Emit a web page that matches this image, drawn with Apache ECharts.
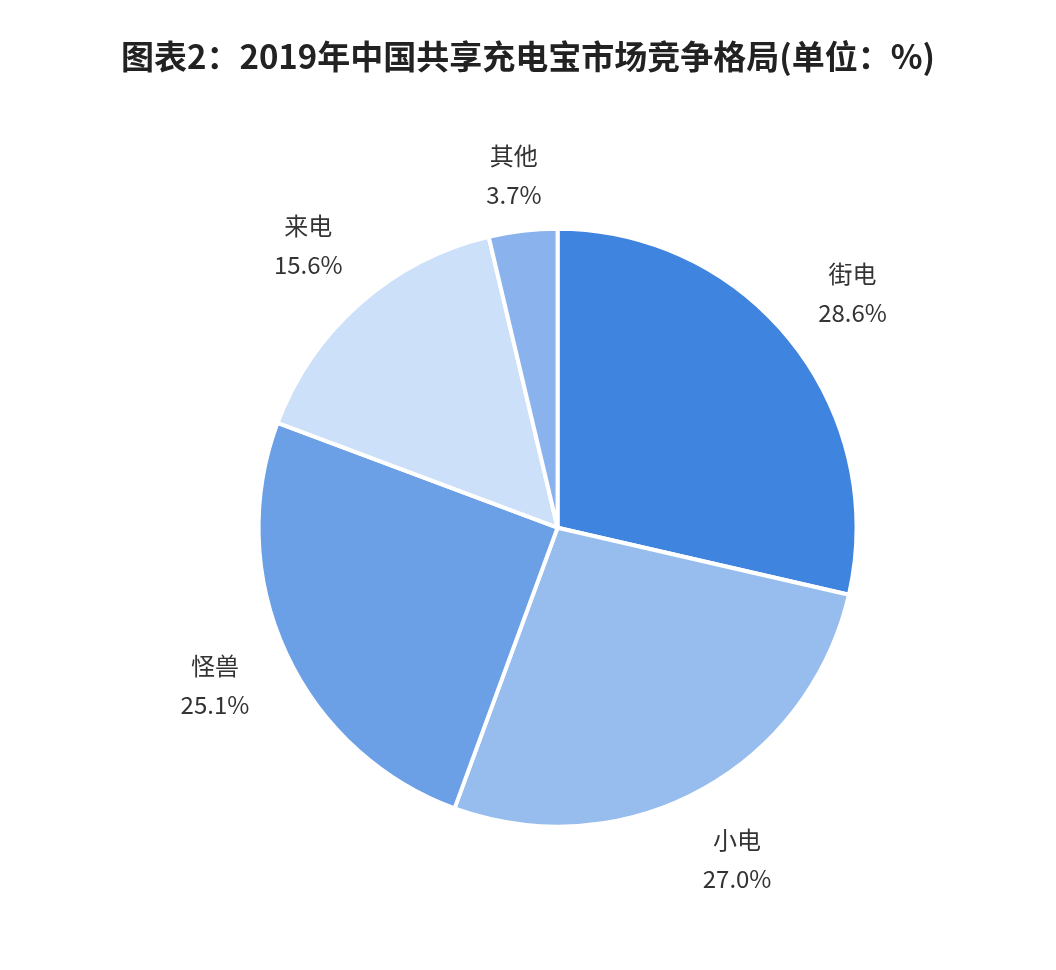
<!DOCTYPE html>
<html>
<head>
<meta charset="utf-8">
<script src="https://cdn.jsdelivr.net/npm/echarts@6/dist/echarts.min.js"></script>
<style>
html,body{margin:0;padding:0;background:#fff;}
#main{width:1056px;height:970px;}
</style>
</head>
<body>
<div id="main"></div>
<script>
const titleText = '图表2：2019年中国共享充电宝市场竞争格局(单位：%)';
const categories = ['街电', '小电', '怪兽', '来电', '其他'];
const shares = [28.6, 27.0, 25.1, 15.6, 3.7];
const colors = ['#3F84DE', '#97BCEE', '#6B9FE6', '#CDE0F9', '#8AB2EC'];

const chart = echarts.init(document.getElementById('main'));
const center = ['52.8%', '54.4%'];

const pieData = categories.map((c, i) => ({
  name: c, value: shares[i], itemStyle: { color: colors[i] }
}));
const labelData = categories.map((c, i) => {
  const d = { name: c, value: shares[i] };
  if (c === '其他') d.label = { offset: [0, 22] };
  return d;
});

chart.setOption({
  backgroundColor: '#ffffff',
  animation: false,
  title: {
    text: titleText,
    left: 'center',
    top: 35,
    textStyle: {
      fontFamily: 'Noto Sans CJK SC',
      fontWeight: 'bold',
      fontSize: 33,
      color: '#222222'
    }
  },
  series: [
    {
      type: 'pie',
      center: center,
      radius: [0, 299],
      startAngle: 90,
      clockwise: true,
      silent: true,
      label: { show: false },
      labelLine: { show: false },
      itemStyle: { borderColor: '#ffffff', borderWidth: 4 },
      emphasis: { disabled: true },
      data: pieData
    },
    {
      type: 'pie',
      center: center,
      radius: [346, 402],
      startAngle: 90,
      clockwise: true,
      silent: true,
      itemStyle: { color: 'rgba(0,0,0,0)', borderWidth: 0 },
      emphasis: { disabled: true },
      labelLine: { show: false },
      label: {
        show: true,
        position: 'inside',
        formatter: p => p.name + '\n' + p.value.toFixed(1) + '%',
        fontFamily: 'Noto Sans CJK SC',
        fontSize: 24,
        lineHeight: 39,
        color: '#333333',
        align: 'center'
      },
      data: labelData
    }
  ]
});
</script>
</body>
</html>
